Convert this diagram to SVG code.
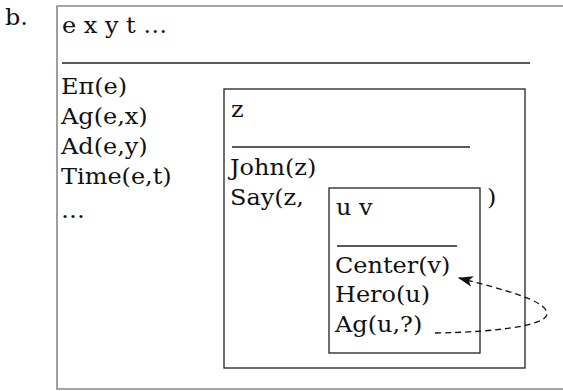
<svg xmlns="http://www.w3.org/2000/svg" width="563" height="391" viewBox="0 0 563 391">
<style>
text{font-family:"DejaVu Serif","Liberation Serif",serif;font-size:22px;fill:#111}
.box{fill:none;stroke:#222;stroke-width:1.3}
.obox{fill:none;stroke:#888;stroke-width:1.6}
.sep{stroke:#222;stroke-width:1.3}
.conn{fill:none;stroke:#111;stroke-width:1.3;stroke-dasharray:6 4}
</style>
<defs>
<marker id="ah" markerWidth="15" markerHeight="11" refX="14" refY="5.5" orient="auto" markerUnits="userSpaceOnUse">
<path d="M0,0 L15,5.5 L0,11 L4,5.5 Z" fill="#111"/>
</marker>
</defs>
<rect width="563" height="391" fill="#fff"/>
<text transform="matrix(1.09 0 0 1 5 25)">b.</text>
<g id="outer">
<path class="obox" d="M563,6 H57 V389 H563"/>
<text transform="matrix(1.09 0 0 1 62 33)">e x y t …</text>
<line class="sep" x1="62" y1="63" x2="530" y2="63"/>
<text transform="matrix(1.09 0 0 1 61 94)">Eπ(e)</text>
<text transform="matrix(1.09 0 0 1 61 124)">Ag(e,x)</text>
<text transform="matrix(1.09 0 0 1 61 154)">Ad(e,y)</text>
<text transform="matrix(1.09 0 0 1 61 184)">Time(e,t)</text>
<text transform="matrix(1.09 0 0 1 61 218)">…</text>
</g>
<g id="middle">
<rect class="box" x="224" y="89" width="301" height="279"/>
<text transform="matrix(1.09 0 0 1 231 117)">z</text>
<line class="sep" x1="232" y1="147" x2="470" y2="147"/>
<text transform="matrix(1.09 0 0 1 230 175)">John(z)</text>
<text transform="matrix(1.09 0 0 1 230 205)">Say(z,</text>
<text transform="matrix(1.09 0 0 1 487 205)">)</text>
</g>
<g id="inner">
<rect class="box" x="329" y="188" width="151" height="165"/>
<text transform="matrix(1.09 0 0 1 336 215)">u v</text>
<line class="sep" x1="337" y1="246" x2="457" y2="246"/>
<text transform="matrix(1.09 0 0 1 335 273)">Center(v)</text>
<text transform="matrix(1.09 0 0 1 335 302)">Hero(u)</text>
<text transform="matrix(1.09 0 0 1 335 332)">Ag(u,?)</text>
</g>
<g id="connectors">
<path class="conn" d="M435,333 C500,332 549,325 547,313 C545,300 505,290 459,278" marker-end="url(#ah)"/>
</g>
</svg>
